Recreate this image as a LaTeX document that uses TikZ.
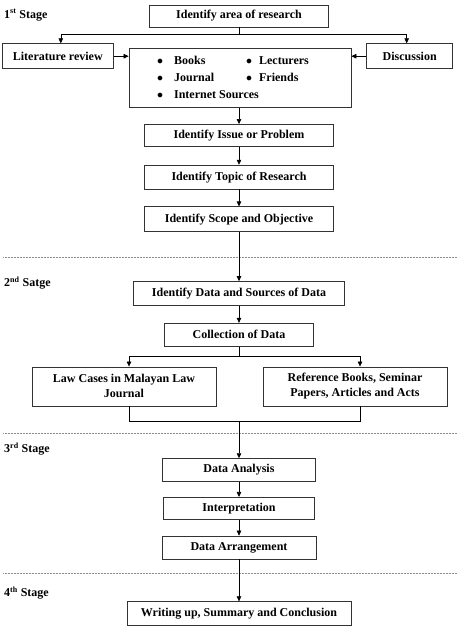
\documentclass[tikz,border=0pt]{standalone}
\usepackage{fontspec}
\setmainfont{Liberation Serif}
\usetikzlibrary{positioning,calc,arrows.meta}

\begin{document}
\begin{tikzpicture}[x=1pt,y=-1pt,
    box/.style={draw=black!80, line width=0.7pt, rectangle, inner sep=2pt,
        font=\bfseries\fontsize{12}{15}\selectfont, align=center},
    col/.style={box, minimum width=189pt},
    stg/.style={anchor=west, inner sep=0pt, font=\bfseries\fontsize{12}{14}\selectfont},
    arr/.style={-{Triangle[length=5pt,width=4.5pt]}, line width=0.6pt},
    lin/.style={line width=0.6pt},
    sep/.style={densely dotted, black!45, line width=0.5pt}
]
    \useasboundingbox (0,0) rectangle (459,630);

    % stage 1
    \node[box, minimum width=179pt, minimum height=22pt] (area) at (239,16) {Identify area of research};
    \node[box, minimum width=222pt, minimum height=59pt, below=21pt of area, xshift=1pt] (src) {%
        \fontsize{12}{17}\selectfont
        \begin{tabular}{@{}c@{\hspace{11pt}}l@{\hspace{32pt}}c@{\hspace{7pt}}l@{}}
            $\bullet$ & Books & $\bullet$ & Lecturers \\
            $\bullet$ & Journal & $\bullet$ & Friends \\
            $\bullet$ & \multicolumn{3}{@{}l@{}}{Internet Sources} \\
        \end{tabular}\hspace*{14pt}};
    \node[box, minimum width=111pt, minimum height=25pt, anchor=north east] (lit) at ([xshift=-15pt,yshift=5pt]src.north west) {Literature review};
    \node[box, minimum width=86pt, minimum height=25pt, anchor=north west] (disc) at ([xshift=15pt,yshift=5pt]src.north east) {Discussion};
    \node[col, minimum height=22pt, below=16pt of src, xshift=-1pt] (issue) {Identify Issue or Problem};
    \node[col, minimum height=24pt, below=18pt of issue] (topic) {Identify Topic of Research};
    \node[col, minimum height=25pt, below=17pt of topic] (scope) {Identify Scope and Objective};

    % stage 2
    \node[box, minimum width=211pt, minimum height=24pt, below=49pt of scope] (datasrc) {Identify Data and Sources of Data};
    \node[box, minimum width=149pt, minimum height=23pt, below=17pt of datasrc] (collect) {Collection of Data};
    \node[box, minimum width=184pt, minimum height=39pt, inner sep=1pt, below=20pt of collect, xshift=-115pt] (law) {Law Cases in Malayan Law\\ Journal};
    \node[box, minimum width=184pt, minimum height=39pt, inner sep=1pt, below=20pt of collect, xshift=116pt] (ref) {Reference Books, Seminar\\ Papers, Articles and Acts};
    \coordinate (join) at ($(collect.south |- law.south)+(0,15)$);

    % stage 3
    \node[box, minimum width=153pt, minimum height=23pt, below=37pt of join] (analysis) {Data Analysis};
    \node[box, minimum width=151pt, minimum height=22pt, below=15pt of analysis] (interp) {Interpretation};
    \node[box, minimum width=154pt, minimum height=23pt, below=16pt of interp] (arrange) {Data Arrangement};

    % stage 4
    \node[box, minimum width=224pt, minimum height=24pt, below=42pt of arrange] (write) {Writing up, Summary and Conclusion};

    % stage labels and separators
    \node[stg] (st1) at (4,15) {1\textsuperscript{st} Stage};
    \node[stg] (st2) at (4,283) {2\textsuperscript{nd} Satge};
    \node[stg] (st3) at (4,449) {3\textsuperscript{rd} Stage};
    \node[stg] (st4) at (4,593) {4\textsuperscript{th} Stage};
    \draw[sep] (3,257) -- (457,257);
    \draw[sep] (3,433) -- (457,433);
    \draw[sep] (3,573) -- (457,573);

    % connectors
    \coordinate (split1) at ($(area.south)+(0,7)$);
    \draw[lin] (area.south) -- (split1);
    \draw[arr] (split1) -| ([xshift=3pt]lit.north);
    \draw[arr] (split1) -| ([xshift=-3pt]disc.north);
    \draw[arr] (lit.east) -- (lit.east -| src.west);
    \draw[arr] (disc.west) -- (disc.west -| src.east);
    \draw[arr] (issue.north |- src.south) -- (issue.north);
    \draw[arr] (issue.south) -- (topic.north);
    \draw[arr] (topic.south) -- (scope.north);
    \draw[arr] (scope.south) -- (datasrc.north);
    \draw[arr] (datasrc.south) -- (collect.north);
    \coordinate (split2) at ($(collect.south)+(0,10)$);
    \draw[lin] (collect.south) -- (split2);
    \draw[arr] (split2) -| ([xshift=5pt]law.north);
    \draw[arr] (split2) -| ([xshift=5pt]ref.north);
    \draw[lin] ([xshift=5pt]law.south) |- (join) -| ([xshift=5pt]ref.south);
    \draw[arr] (join) -- (analysis.north);
    \draw[arr] (analysis.south) -- (interp.north);
    \draw[arr] (interp.south) -- (arrange.north);
    \draw[arr] (arrange.south) -- (write.north);
\end{tikzpicture}
\end{document}
